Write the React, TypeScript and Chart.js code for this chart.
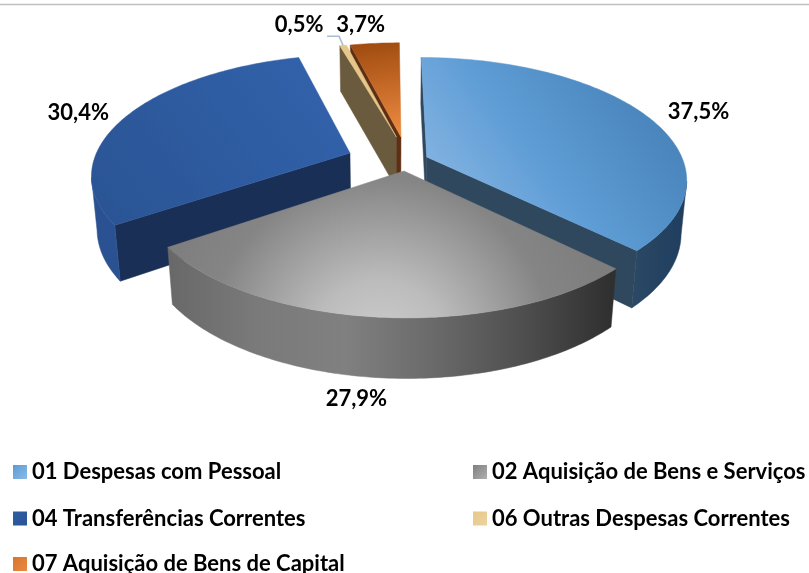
import React, { useEffect, useRef } from "react";
import { Chart, registerables } from "chart.js";

Chart.register(...registerables);

const categories = [
  "01 Despesas com Pessoal",
  "02 Aquisição de Bens e Serviços",
  "04 Transferências Correntes",
  "06 Outras Despesas Correntes",
  "07 Aquisição de Bens de Capital",
];
const values = [37.5, 27.9, 30.4, 0.5, 3.7];

// explosion of every slice, in units of the pie radius
const explodeX = [0.146, 0.0557, -0.156, 0.028, 0.0464];
const explodeY = [0.0224, 0.14, -0.012, -0.1545, -0.1545];
// data label offset from the slice's rim mid-point, in pixels
const labelDX = [53, -22, -49, -44, -14];
const labelDY = [-3, 82, -3, -20, -18];
const drawOrder = [4, 3, 2, 0, 1];
// legend cells
const legendCol = [13, 473, 13, 473, 13];
const legendRow = [472, 472, 518.5, 518.5, 564];

const W = 809;
const H = 573;
const CX = 389.5, CY = 154.4, AX = 254, BY = 115.6, DEPTH = 53, KP = 0.17, MZ = 0.0185;
const FONT = "bold 22px Lato";

function project(x: number, y: number, z: number): [number, number] {
  const w = 1 - KP * y + MZ * z;
  return [CX + (AX * x) / w, CY + (BY * y + DEPTH * z) / w];
}

function stops(g: CanvasGradient, list: [number, string][]) {
  list.forEach(([o, c]) => g.addColorStop(o, c));
  return g;
}

function topFill(ctx: CanvasRenderingContext2D, i: number) {
  if (i === 0) return stops(ctx.createLinearGradient(450, 210, 650, 60), [[0, "#86b5e2"], [0.4, "#5f9dd6"], [1, "#447fb5"]]);
  if (i === 1) return stops(ctx.createRadialGradient(380, 350, 0, 380, 350, 230), [[0, "#cecece"], [0.3, "#bcbcbc"], [0.75, "#858585"], [1, "#7e7e7e"]]);
  if (i === 2) return stops(ctx.createLinearGradient(100, 220, 320, 60), [[0, "#2a5494"], [1, "#3262ab"]]);
  if (i === 3) return "#e6c78a";
  return stops(ctx.createLinearGradient(380, 42, 395, 137), [[0, "#a04c10"], [1, "#f08c42"]]);
}
function outerFill(ctx: CanvasRenderingContext2D, i: number) {
  if (i === 0) return stops(ctx.createLinearGradient(628, 0, 687, 0), [[0, "#2c4965"], [1, "#1f3d5e"]]);
  if (i === 1) return stops(ctx.createLinearGradient(168, 0, 610, 0), [[0, "#686868"], [0.2, "#7a7a7a"], [0.4, "#808080"], [0.6, "#6a6a6a"], [0.8, "#4f4f4f"], [1, "#303030"]]);
  if (i === 2) return "#2a5292";
  return "#6a3a1e";
}
const cutFill = ["#30485e", "#555555", "#1a2f56", "#6a5a3e", "#5e2f14"];

const pie3d = {
  id: "pie3d",
  beforeDatasetsDraw(chart: any) {
    const ctx: CanvasRenderingContext2D = chart.ctx;
    const arcs = chart.getDatasetMeta(0).data;
    const rim = (i: number, t: number, z: number) =>
      project(explodeX[i] + Math.sin(t), explodeY[i] - Math.cos(t), z);
    const poly = (pts: [number, number][], fill: any) => {
      ctx.beginPath();
      pts.forEach((p, n) => (n ? ctx.lineTo(p[0], p[1]) : ctx.moveTo(p[0], p[1])));
      ctx.closePath();
      ctx.fillStyle = fill;
      ctx.fill();
      ctx.strokeStyle = fill;
      ctx.lineWidth = 0.5;
      ctx.stroke();
    };
    const eyeY = 1 / KP;
    drawOrder.forEach((i) => {
      const arc = arcs[i];
      const t0 = arc.startAngle + Math.PI / 2;
      const t1 = arc.endAngle + Math.PI / 2;
      const ex = explodeX[i], ey = explodeY[i];
      // flat cut walls, only when they face the eye
      const facing = (nx: number, ny: number) => nx * (0 - ex) + ny * (eyeY - ey) > 0;
      if (facing(-Math.cos(t0), -Math.sin(t0))) {
        poly([project(ex, ey, 0), rim(i, t0, 0), rim(i, t0, 1), project(ex, ey, 1)], cutFill[i]);
      }
      if (facing(Math.cos(t1), Math.sin(t1))) {
        poly([project(ex, ey, 0), rim(i, t1, 0), rim(i, t1, 1), project(ex, ey, 1)], cutFill[i]);
      }
      // curved outer wall
      const steps = Math.max(4, Math.ceil((t1 - t0) * 60));
      const up: [number, number][] = [];
      const down: [number, number][] = [];
      for (let s = 0; s <= steps; s++) {
        const t = t0 + ((t1 - t0) * s) / steps;
        const nx = Math.sin(t), ny = -Math.cos(t);
        const px = ex + nx, py = ey + ny;
        if (nx * (0 - px) + ny * (eyeY - py) > 0) {
          up.push(rim(i, t, 0));
          down.unshift(rim(i, t, 1));
        }
      }
      if (up.length > 1) poly([...up, ...down], outerFill(ctx, i));
      // top face
      const top: [number, number][] = [project(ex, ey, 0)];
      for (let s = 0; s <= steps; s++) top.push(rim(i, t0 + ((t1 - t0) * s) / steps, 0));
      poly(top, topFill(ctx, i));
    });
    return false;
  },
  afterDraw(chart: any) {
    const ctx: CanvasRenderingContext2D = chart.ctx;
    const arcs = chart.getDatasetMeta(0).data;
    ctx.save();
    // frame line at the top of the picture
    ctx.strokeStyle = "#c0c0c0";
    ctx.lineWidth = 1.5;
    ctx.beginPath();
    ctx.moveTo(0, 4.5);
    ctx.lineTo(W, 4.5);
    ctx.stroke();

    ctx.font = FONT;
    ctx.fillStyle = "#000000";
    ctx.textAlign = "center";
    ctx.textBaseline = "middle";
    values.forEach((v, i) => {
      const mid = (arcs[i].startAngle + arcs[i].endAngle) / 2 + Math.PI / 2;
      const [x, y] = project(explodeX[i] + Math.sin(mid), explodeY[i] - Math.cos(mid), 0);
      ctx.fillText(v.toFixed(1).replace(".", ",") + "%", x + labelDX[i], y + labelDY[i]);
      if (i === 3) {
        ctx.strokeStyle = "#a9bcd0";
        ctx.lineWidth = 1.5;
        ctx.beginPath();
        ctx.moveTo(x - 16, y - 9);
        ctx.lineTo(x - 4, y - 9);
        ctx.lineTo(x, y);
        ctx.stroke();
      }
    });

    ctx.textAlign = "left";
    categories.forEach((c, i) => {
      const x = legendCol[i], y = legendRow[i];
      const g = ctx.createLinearGradient(x, y - 7, x + 14, y + 7);
      const sw = ["#5b9bd5", "#7f7f7f", "#2f5da4", "#e6c78a", "#d9742c"];
      const sw2 = ["#8bbbe6", "#b0b0b0", "#2a5494", "#eed39f", "#e88a42"];
      g.addColorStop(0, sw[i]);
      g.addColorStop(1, sw2[i]);
      ctx.fillStyle = g;
      ctx.fillRect(x, y - 7, 14, 14);
      ctx.fillStyle = "#000000";
      ctx.fillText(c, x + 19, y);
    });
    ctx.restore();
  },
};

export default function App() {
  const ref = useRef<HTMLCanvasElement>(null);
  useEffect(() => {
    const chart = new Chart(ref.current!, {
      type: "pie",
      data: { labels: categories, datasets: [{ data: values, borderWidth: 0 }] },
      options: {
        animation: false,
        responsive: false,
        plugins: { legend: { display: false }, tooltip: { enabled: false } },
      },
      plugins: [pie3d],
    });
    return () => chart.destroy();
  }, []);
  return (
    <canvas
      ref={ref}
      width={W}
      height={H}
      style={{ position: "fixed", left: 0, top: 0, width: W, height: H, background: "#fff", filter: "blur(0.5px)" }}
    />
  );
}
